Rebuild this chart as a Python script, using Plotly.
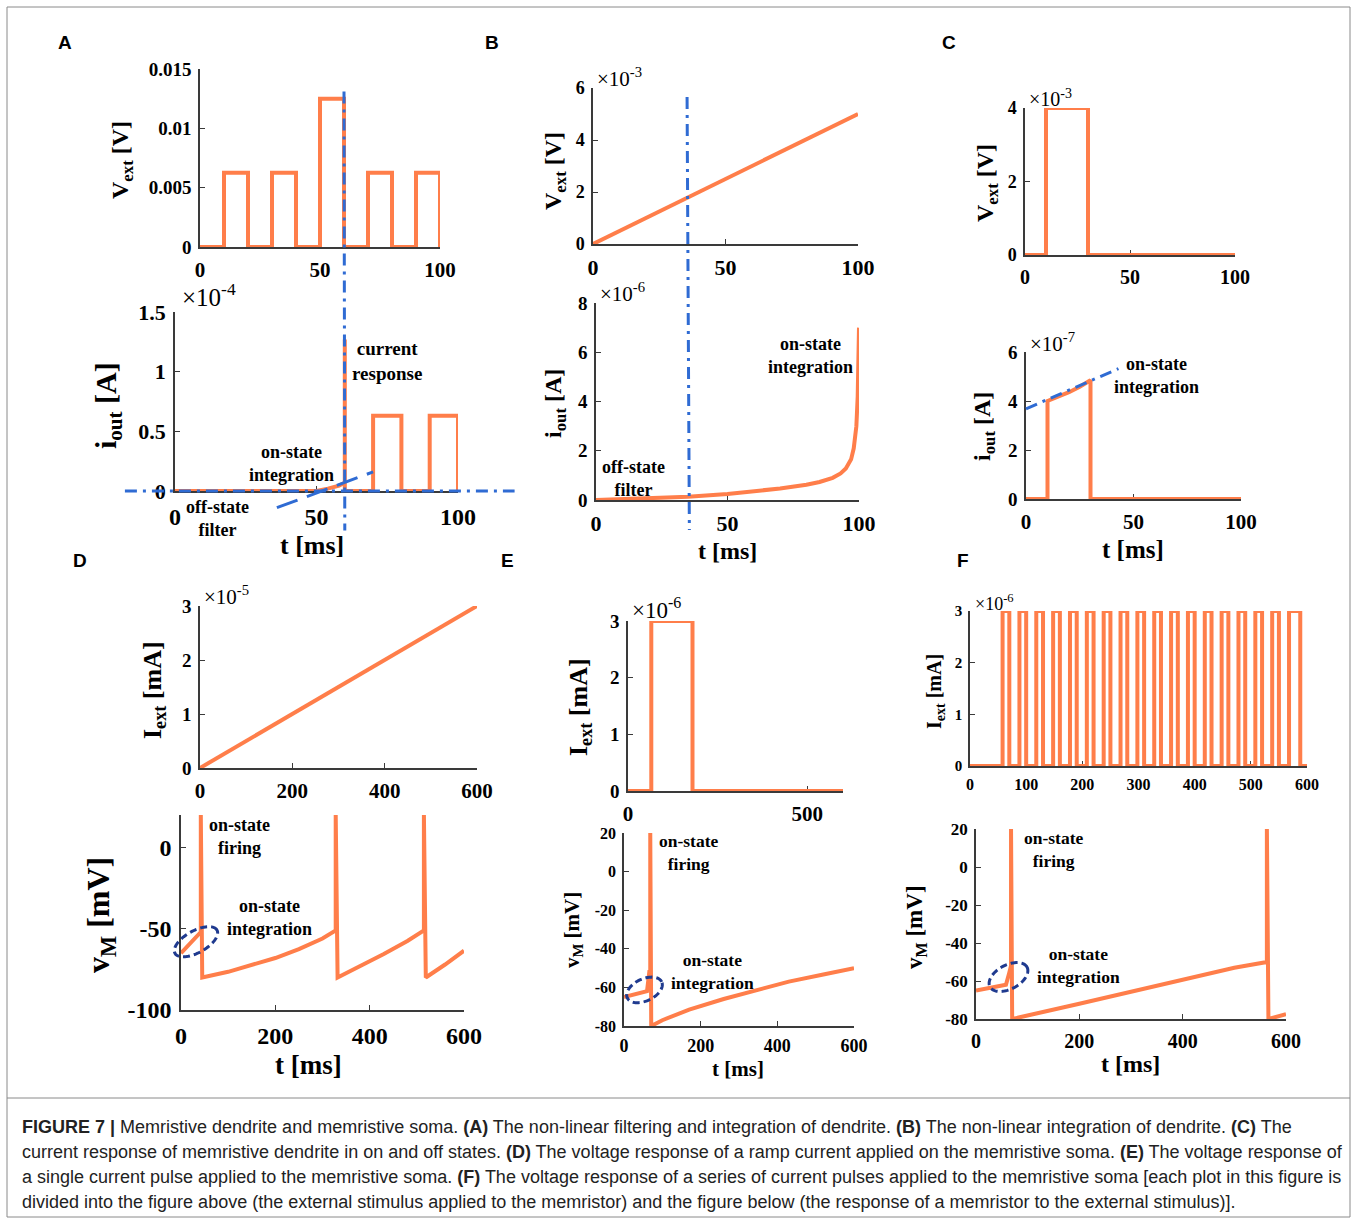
import math
import plotly.graph_objects as go

W, H = 1357, 1222
ORANGE = "#FF7E4A"
BLUE = "#2F6BD3"
NAVY = "#1F3A8F"
AXC = "#3a3a3a"
SERIF = "Liberation Serif"
SANS = "Liberation Sans"

# ---------------- data ----------------
# (A) top: external voltage pulses [V]
a_top_t = [0, 10, 10, 20, 20, 30, 30, 40, 40, 50, 50, 60, 60, 70, 70, 80, 80, 90, 90, 100, 100]
a_top_v = [0, 0, 0.00625, 0.00625, 0, 0, 0.00625, 0.00625, 0, 0, 0.0125, 0.0125, 0, 0,
           0.00625, 0.00625, 0, 0, 0.00625, 0.00625, 0]
# (A) bottom: output current [x1e-4 A]
a_bot_t = [0, 50, 54, 58, 60, 60, 60, 70, 70, 80, 80, 90, 90, 100, 100]
a_bot_i = [0, 0, 0.02, 0.045, 0.07, 1.27, 0, 0, 0.63, 0.63, 0, 0, 0.63, 0.63, 0]
# (B) top: ramp voltage [x1e-3 V]
b_top_t = [0, 100]
b_top_v = [0, 5.0]
# (B) bottom: output current [x1e-6 A]
b_bot_t = [0, 10, 20, 35, 50, 60, 70, 80, 85, 90, 93, 95, 97, 98, 99, 99.5, 99.8, 100]
b_bot_i = [0, 0.03, 0.07, 0.13, 0.24, 0.34, 0.47, 0.62, 0.73, 0.9, 1.08, 1.28, 1.65, 2.1, 3.0, 4.2, 5.8, 7.0]
# (C) top: single voltage pulse [x1e-3 V]
c_top_t = [0, 10, 10, 30, 30, 100]
c_top_v = [0, 0, 4, 4, 0, 0]
# (C) bottom: output current [x1e-7 A]
c_bot_t = [0, 10, 10, 15, 20, 25, 30, 30, 100]
c_bot_i = [0, 0, 4.0, 4.17, 4.36, 4.58, 4.85, 0, 0]
# (D) top: ramp current [x1e-5 mA]
d_top_t = [0, 600]
d_top_i = [0, 3.0]
# (D) bottom: membrane voltage [mV]
d_bot_t = [0, 20, 42, 42, 45, 100, 150, 200, 250, 300, 328, 328, 332, 380, 430, 480, 515, 515, 519, 560, 600]
d_bot_v = [-65, -58.5, -52, 20, -80, -76.5, -72.5, -68, -62.5, -56, -51, 20, -80, -73, -65.5, -57.5,
           -51, 20, -80, -72, -63.5]
# (E) top: single current pulse [x1e-6 mA]
e_top_t = [0, 65, 65, 180, 180, 600]
e_top_i = [0, 0, 3, 3, 0, 0]
# (E) bottom: membrane voltage [mV]
e_bot_t = [0, 30, 60, 66, 68.5, 68.5, 71, 100, 170, 260, 345, 430, 520, 600]
e_bot_v = [-65, -63.5, -62, -52, -52, 20, -80, -77, -71.5, -66, -61.5, -57, -53.3, -50]
# (F) top: current pulse train [x1e-6 mA]
f_pulse_on = [58, 88, 118, 148, 178, 208, 238, 268, 298, 328, 358, 388, 418, 448, 478, 508, 538, 568]
f_pulse_off = [70, 100, 130, 160, 190, 220, 250, 280, 310, 340, 370, 400, 430, 460, 490, 520, 550, 588]
f_amp = 3.0
f_end = 600
# (F) bottom: membrane voltage [mV]
f_bot_t = [0, 30, 58, 64, 67.8, 67.8, 70, 200, 300, 400, 500, 563, 563, 566, 600]
f_bot_v = [-65, -63.5, -62, -56, -52, 20, -80, -72, -65.5, -59, -53, -50, 20, -80, -77.5]

f_top_t, f_top_i = [0], [0]
for on, off in zip(f_pulse_on, f_pulse_off):
    f_top_t += [on, on, off, off]
    f_top_i += [0, f_amp, f_amp, 0]
f_top_t.append(f_end)
f_top_i.append(0)

# ---------------- layout geometry (pixel boxes: left, top, right, bottom) ----------------
boxes = {
    "a1": (200, 69, 440, 247), "a2": (175, 312, 458, 491),
    "b1": (593, 88, 858, 244), "b2": (596, 303, 859, 500),
    "c1": (1025, 108, 1235, 255), "c2": (1026, 352, 1241, 499),
    "d1": (200, 606, 477, 768), "d2": (181, 815, 464, 1010),
    "e1": (628, 621, 843, 791), "e2": (624, 833, 854, 1026),
    "f1": (970, 611, 1307, 766), "f2": (976, 829, 1286, 1019),
}
xr = {"a1": [0, 100], "a2": [0, 100], "b1": [0, 100], "b2": [0, 100], "c1": [0, 100], "c2": [0, 100],
      "d1": [0, 600], "d2": [0, 600], "e1": [0, 600], "e2": [0, 600], "f1": [0, 600], "f2": [0, 600]}
yr = {"a1": [0, 0.015], "a2": [0, 1.5], "b1": [0, 6], "b2": [0, 8], "c1": [0, 4], "c2": [0, 6],
      "d1": [0, 3], "d2": [-100, 20], "e1": [0, 3], "e2": [-80, 20], "f1": [0, 3], "f2": [-80, 20]}
xticks = {"a1": [0, 50, 100], "a2": [0, 50, 100], "b1": [0, 50, 100], "b2": [0, 50, 100],
          "c1": [0, 50, 100], "c2": [0, 50, 100], "d1": [0, 200, 400, 600], "d2": [0, 200, 400, 600],
          "e1": [0, 500], "e2": [0, 200, 400, 600], "f1": [0, 100, 200, 300, 400, 500, 600],
          "f2": [0, 200, 400, 600]}
yticks = {"a1": ([0, 0.005, 0.01, 0.015], ["0", "0.005", "0.01", "0.015"]),
          "a2": ([0, 0.5, 1, 1.5], ["0", "0.5", "1", "1.5"]),
          "b1": ([0, 2, 4, 6], None), "b2": ([0, 2, 4, 6, 8], None),
          "c1": ([0, 2, 4], None), "c2": ([0, 2, 4, 6], None),
          "d1": ([0, 1, 2, 3], None), "d2": ([-100, -50, 0], None),
          "e1": ([0, 1, 2, 3], None), "e2": ([-80, -60, -40, -20, 0, 20], None),
          "f1": ([0, 1, 2, 3], None), "f2": ([-80, -60, -40, -20, 0, 20], None)}
tfs = {"a1": (19, 21), "a2": (22, 24), "b1": (18, 22), "b2": (19, 22), "c1": (18, 20), "c2": (19, 21),
       "d1": (19, 21), "d2": (24, 24), "e1": (19, 21), "e2": (16, 18), "f1": (15, 16), "f2": (17, 20)}

series = [("a1", a_top_t, a_top_v), ("a2", a_bot_t, a_bot_i), ("b1", b_top_t, b_top_v),
          ("b2", b_bot_t, b_bot_i), ("c1", c_top_t, c_top_v), ("c2", c_bot_t, c_bot_i),
          ("d1", d_top_t, d_top_i), ("d2", d_bot_t, d_bot_v), ("e1", e_top_t, e_top_i),
          ("e2", e_bot_t, e_bot_v), ("f1", f_top_t, f_top_i), ("f2", f_bot_t, f_bot_v)]


def px_of(key, x, y):
    l, t, r, b = boxes[key]
    x0, x1 = xr[key]
    y0, y1 = yr[key]
    return l + (x - x0) / (x1 - x0) * (r - l), b - (y - y0) / (y1 - y0) * (b - t)


def P(px, py):
    return px / W, 1 - py / H


def data_paper(key, x, y):
    return P(*px_of(key, x, y))


fig = go.Figure()
layout = {}
for i, (key, xs, ys) in enumerate(series, start=1):
    sfx = "" if i == 1 else str(i)
    fig.add_trace(go.Scatter(x=xs, y=ys, mode="lines", xaxis="x" + sfx, yaxis="y" + sfx,
                             line=dict(color=ORANGE, width=4), showlegend=False, hoverinfo="skip"))
    l, t, r, b = boxes[key]
    yfs, xfs = tfs[key]
    common = dict(showline=True, linecolor=AXC, linewidth=1.5, ticks="inside", ticklen=5, tickwidth=1.2,
                  tickcolor=AXC, showgrid=False, zeroline=False, layer="below traces", fixedrange=True,
                  automargin=False)
    layout["xaxis" + sfx] = dict(domain=[l / W, r / W], range=xr[key], anchor="y" + sfx,
                                 tickvals=xticks[key], ticktext=[str(v) for v in xticks[key]],
                                 tickfont=dict(family=SERIF, size=xfs, color="black", weight="bold"),
                                 ticklabelstandoff=3, **common)
    yv, yt = yticks[key]
    layout["yaxis" + sfx] = dict(domain=[1 - b / H, 1 - t / H], range=yr[key], anchor="x" + sfx,
                                 tickvals=yv, ticktext=yt if yt else [str(v) for v in yv],
                                 tickfont=dict(family=SERIF, size=yfs, color="black", weight="bold"),
                                 ticklabelstandoff=3, **common)

shapes = []


def seg(p0, p1, color, dash, width=3):
    shapes.append(dict(type="line", xref="paper", yref="paper", x0=p0[0], y0=p0[1], x1=p1[0], y1=p1[1],
                       line=dict(color=color, width=width, dash=dash), layer="above"))


DD = "12px,6px,3px,6px"
# (A) guide lines
seg(data_paper("a1", 60, 0.0131), data_paper("a2", 60, -0.33), BLUE, DD)
seg(data_paper("a2", -17.7, 0), data_paper("a2", 120, 0), BLUE, DD)
seg(data_paper("a2", 36, -0.14), data_paper("a2", 70, 0.16), BLUE, "22px,10px")
# (B) guide line
seg(data_paper("b1", 35.5, 5.65), data_paper("b2", 35.5, -1.22), BLUE, DD)
# (C) guide line
seg(data_paper("c2", 0, 3.68), data_paper("c2", 43, 5.32), BLUE, DD)


def ellipse(key, cx, cy, rx, ry, ang):
    cxp, cyp = px_of(key, cx, cy)
    a = math.radians(ang)
    pts = []
    for k in range(73):
        th = 2 * math.pi * k / 72
        ex, ey = rx * math.cos(th), ry * math.sin(th)
        px = cxp + ex * math.cos(a) - ey * math.sin(a)
        py = cyp - (ex * math.sin(a) + ey * math.cos(a))
        pts.append(P(px, py))
    path = "M " + " L ".join(f"{x:.5f},{y:.5f}" for x, y in pts) + " Z"
    shapes.append(dict(type="path", path=path, xref="paper", yref="paper",
                       line=dict(color=NAVY, width=3, dash="7px,4px"), layer="above"))


ellipse("d2", 31.8, -58, 24, 11, 29)
ellipse("e2", 53.5, -61.3, 19, 11, 25)
ellipse("f2", 62.9, -57.9, 21, 12, 28)

# figure frame and caption separator
shapes.append(dict(type="rect", xref="paper", yref="paper", x0=7 / W, x1=1350 / W, y0=1 - 1217 / H, y1=1 - 7 / H,
                   line=dict(color="#8a8a8a", width=1)))
shapes.append(dict(type="line", xref="paper", yref="paper", x0=7 / W, x1=1350 / W, y0=1 - 1098 / H, y1=1 - 1098 / H,
                   line=dict(color="#8a8a8a", width=1)))

ann = []


def text(px, py, s, size, family=SERIF, angle=0, xanchor="center", yanchor="middle", color="black",
         weight="bold"):
    x, y = P(px, py)
    ann.append(dict(x=x, y=y, xref="paper", yref="paper", text=s, showarrow=False, textangle=angle,
                    xanchor=xanchor, yanchor=yanchor,
                    font=dict(family=family, size=size, color=color, weight=weight)))


# y-axis titles
for (px, py, s, size) in [
    (122, 160, "V<sub>ext</sub> [V]", 24), (108, 405, "i<sub>out</sub> [A]", 30),
    (555, 171, "V<sub>ext</sub> [V]", 24), (555, 404, "i<sub>out</sub> [A]", 24),
    (987, 183, "V<sub>ext</sub> [V]", 24), (984, 427, "i<sub>out</sub> [A]", 24),
    (154, 690, "I<sub>ext</sub> [mA]", 26), (100, 915, "v<sub>M</sub> [mV]", 32),
    (580, 707, "I<sub>ext</sub> [mA]", 26), (573, 930, "v<sub>M</sub> [mV]", 21),
    (935, 692, "I<sub>ext</sub> [mA]", 20), (916, 927, "v<sub>M</sub> [mV]", 23)]:
    text(px, py, s, size, angle=-90)

# x-axis titles
for (px, py, size) in [(312, 545, 26), (727, 551, 24), (1133, 549, 25), (308, 1065, 27), (738, 1069, 21),
                       (1130, 1064, 24)]:
    text(px, py, "t [ms]", size)

# exponent labels
for (px, py, s, size) in [(180, 295, "-4", 25), (595, 78, "-3", 21), (598, 292, "-6", 21),
                          (1027, 98, "-3", 20), (1028, 342, "-7", 21), (202, 595, "-5", 21),
                          (630, 608, "-6", 23), (973, 602, "-6", 18)]:
    text(px, py, f"×10<sup>{s}</sup>", size, xanchor="left", weight="normal")

# in-plot annotations
for (px, py, s, size) in [
    (387, 361, "current<br>response", 19), (291, 464, "on-state<br>integration", 18),
    (218, 518, "off-state<br>filter", 18), (810, 355, "on-state<br>integration", 18),
    (633, 478, "off-state<br>filter", 18), (1156, 375, "on-state<br>integration", 18),
    (239, 836, "on-state<br>firing", 18), (269, 918, "on-state<br>integration", 18),
    (689, 852, "on-state<br>firing", 17.5), (712, 971, "on-state<br>integration", 17.5),
    (1054, 849, "on-state<br>firing", 17.5), (1078, 965, "on-state<br>integration", 17.5)]:
    text(px, py, s, size)

# panel letters
for (px, py, s) in [(65, 42, "A"), (492, 42, "B"), (949, 42, "C"), (80, 560, "D"), (507, 560, "E"),
                    (963, 560, "F")]:
    text(px, py, s, 19, family=SANS)

# caption
caption = [
    "<b>FIGURE 7 |</b> Memristive dendrite and memristive soma. <b>(A)</b> The non-linear filtering and integration of dendrite. <b>(B)</b> The non-linear integration of dendrite. <b>(C)</b> The",
    "current response of memristive dendrite in on and off states. <b>(D)</b> The voltage response of a ramp current applied on the memristive soma. <b>(E)</b> The voltage response of",
    "a single current pulse applied to the memristive soma. <b>(F)</b> The voltage response of a series of current pulses applied to the memristive soma [each plot in this figure is",
    "divided into the figure above (the external stimulus applied to the memristor) and the figure below (the response of a memristor to the external stimulus)].",
]
for k, line in enumerate(caption):
    text(20, 1127 + 25 * k, line, 18, family=SANS, xanchor="left", color="#222222", weight="normal")

fig.update_layout(width=W, height=H, autosize=False,
                  margin=dict(l=0, r=0, t=0, b=0, pad=0, autoexpand=False),
                  paper_bgcolor="white", plot_bgcolor="white", shapes=shapes, annotations=ann,
                  showlegend=False, **layout)
fig.write_html("out.html", config={"displayModeBar": False},
               post_script="document.body.style.margin='0';document.body.style.padding='0';"
                           "document.documentElement.style.overflow='hidden';")
